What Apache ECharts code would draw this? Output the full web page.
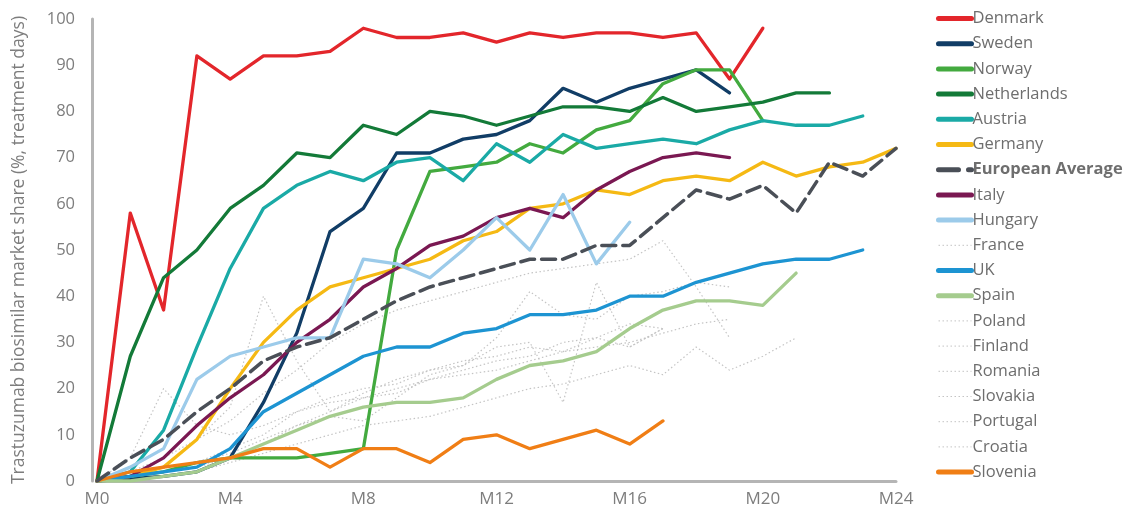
<!DOCTYPE html>
<html>
<head>
<meta charset="utf-8">
<script src="https://cdn.jsdelivr.net/npm/echarts@6/dist/echarts.min.js"></script>
<style>
html,body{margin:0;padding:0;background:#fff;}
#chart{width:1134px;height:515px;}
</style>
</head>
<body>
<div id="chart"></div>
<script>
const months = ['M0','M1','M2','M3','M4','M5','M6','M7','M8','M9','M10','M11','M12','M13','M14','M15','M16','M17','M18','M19','M20','M21','M22','M23','M24'];
const yTicks = [0,10,20,30,40,50,60,70,80,90,100];

const denmark     = [0,58,37,92,87,92,92,93,98,96,96,97,95,97,96,97,97,96,97,87,98];
const sweden      = [0,0.5,1,2,5,17,32,54,59,71,71,74,75,78,85,82,85,87,89,84];
const norway      = [0,1,2,4,5,5,5,6,7,50,67,68,69,73,71,76,78,86,89,89,78];
const netherlands = [0,27,44,50,59,64,71,70,77,75,80,79,77,79,81,81,80,83,80,81,82,84,84];
const austria     = [0,2,11,29,46,59,64,67,65,69,70,65,73,69,75,72,73,74,73,76,78,77,77,79];
const germany     = [0,1,3,9,20,30,37,42,44,46,48,52,54,59,60,63,62,65,66,65,69,66,68,69,72];
const euroAvg     = [0,5,9,15,20,26,29,31,35,39,42,44,46,48,48,51,51,57,63,61,64,58,69,66,72];
const italy       = [0,1,5,12,18,23,30,35,42,46,51,53,57,59,57,63,67,70,71,70];
const hungary     = [0,3,7,22,27,29,31,31,48,47,44,50,57,50,62,47,56];
const france      = [0,2,5,9,13,19,24,30,34,37,39,41,43,45,46,47,48,52,42,31];
const uk          = [0,1,2,3,7,15,19,23,27,29,29,32,33,36,36,37,40,40,43,45,47,48,48,50];
const spain       = [0,0,1,2,5,8,11,14,16,17,17,18,22,25,26,28,33,37,39,39,38,45];
const poland      = [0,1,3,9,16,40,26,15,19,22,24,26,27,29,28,31,34,33];
const finland     = [0,5,20,12,10,12,15,18,20,21,24,25,29,30,17,43,29,33];
const romania     = [0,1,2,4,6,9,12,15,18,20,22,23,24,26,28,29,30,32,34,35];
const slovakia    = [0,0,1,2,4,6,8,10,12,13,14,16,18,20,21,23,25,23,29,24,27,31];
const portugal    = [0,1,2,3,5,8,12,14,13,18,23,25,31,41,36,35,40,41,43,42];
const croatia     = [0,1,2,4,7,10,15,17,18,19,22,24,26,27,30,31,29,33];
const slovenia    = [0,2,3,4,5,7,7,3,7,7,4,9,10,7,9,11,8,13];

const GREY = '#c4c4c4';
const DOT = [1.5, 2.5];
const seriesDefs = [
  {name:'Denmark', data:denmark, color:'#e3262b'},
  {name:'Sweden', data:sweden, color:'#113d66'},
  {name:'Norway', data:norway, color:'#43aa3f'},
  {name:'Netherlands', data:netherlands, color:'#137a38'},
  {name:'Austria', data:austria, color:'#1aaaa6'},
  {name:'Germany', data:germany, color:'#f5b914'},
  {name:'European Average', data:euroAvg, color:'#4a4f57', type:'dashed', width:3.5},
  {name:'Italy', data:italy, color:'#7a1852'},
  {name:'Hungary', data:hungary, color:'#9ccbea'},
  {name:'France', data:france, color:GREY, type:DOT, width:1.2},
  {name:'UK', data:uk, color:'#1d94d2'},
  {name:'Spain', data:spain, color:'#a5cc8e'},
  {name:'Poland', data:poland, color:GREY, type:DOT, width:1.2},
  {name:'Finland', data:finland, color:GREY, type:DOT, width:1.2},
  {name:'Romania', data:romania, color:GREY, type:DOT, width:1.2},
  {name:'Slovakia', data:slovakia, color:GREY, type:DOT, width:1.2},
  {name:'Portugal', data:portugal, color:GREY, type:DOT, width:1.2},
  {name:'Croatia', data:croatia, color:GREY, type:DOT, width:1.2},
  {name:'Slovenia', data:slovenia, color:'#f07e15'}
];
const isDot = d => Array.isArray(d.type);

const series = seriesDefs.map(d => ({
  name: d.name,
  type: 'line',
  data: d.data,
  symbol: 'none',
  smooth: false,
  z: isDot(d) ? 1 : (d.type === 'dashed' ? 3 : 2),
  color: d.color,
  lineStyle: {color: d.color, width: d.width || 3.3, type: d.type || 'solid', cap: isDot(d) ? 'butt' : 'round', join:'round'},
  emphasis: {disabled: true}
}));

const legendData = seriesDefs.map(d => ({
  name: d.name,
  itemStyle: {opacity: 0},
  lineStyle: {width: isDot(d) ? 1 : 5, type: d.type || 'solid', color: d.color, cap: isDot(d) ? 'butt' : 'round'}
}));

const chart = echarts.init(document.getElementById('chart'), null, {renderer:'canvas'});
chart.setOption({
  animation: false,
  backgroundColor: '#ffffff',
  textStyle: {fontFamily: 'Open Sans'},
  grid: {left: 97, right: 238, top: 19, bottom: 34, containLabel: false},
  legend: {
    orient: 'vertical',
    left: 931,
    top: 5,
    itemWidth: 33,
    itemHeight: 14,
    itemGap: 8.2,
    itemStyle: {opacity: 0},
    data: legendData,
    formatter: n => n === 'European Average' ? '{b|' + n + '}' : n,
    textStyle: {
      fontFamily: 'Open Sans', fontSize: 16.5, color: '#6e6e6e', padding: [0,0,0,-4],
      rich: {b: {fontFamily: 'Open Sans', fontSize: 16.5, fontWeight: 'bold', color: '#6e6e6e'}}
    }
  },
  xAxis: {
    type: 'category',
    data: months,
    boundaryGap: false,
    offset: 2,
    axisLine: {show: true, lineStyle: {color: '#b5b5b5', width: 3}},
    axisTick: {show: false},
    axisLabel: {interval: 3, color: '#7d7d7d', fontSize: 17, margin: 8, fontFamily: 'Open Sans'},
    splitLine: {show: false}
  },
  yAxis: {
    type: 'value',
    min: 0, max: 100, interval: 10,
    offset: 5,
    name: 'Trastuzumab biosimilar market share (%, treatment days)',
    nameLocation: 'middle',
    nameGap: 64,
    nameTextStyle: {color: '#7d7d7d', fontSize: 17.5, fontFamily: 'Open Sans'},
    axisLine: {show: true, lineStyle: {color: '#b5b5b5', width: 3}},
    axisTick: {show: false},
    axisLabel: {color: '#7d7d7d', fontSize: 16.5, margin: 17, fontFamily: 'Open Sans',
      formatter: v => yTicks.includes(v) ? String(v) : ''},
    splitLine: {show: false}
  },
  series: series
});
</script>
</body>
</html>
